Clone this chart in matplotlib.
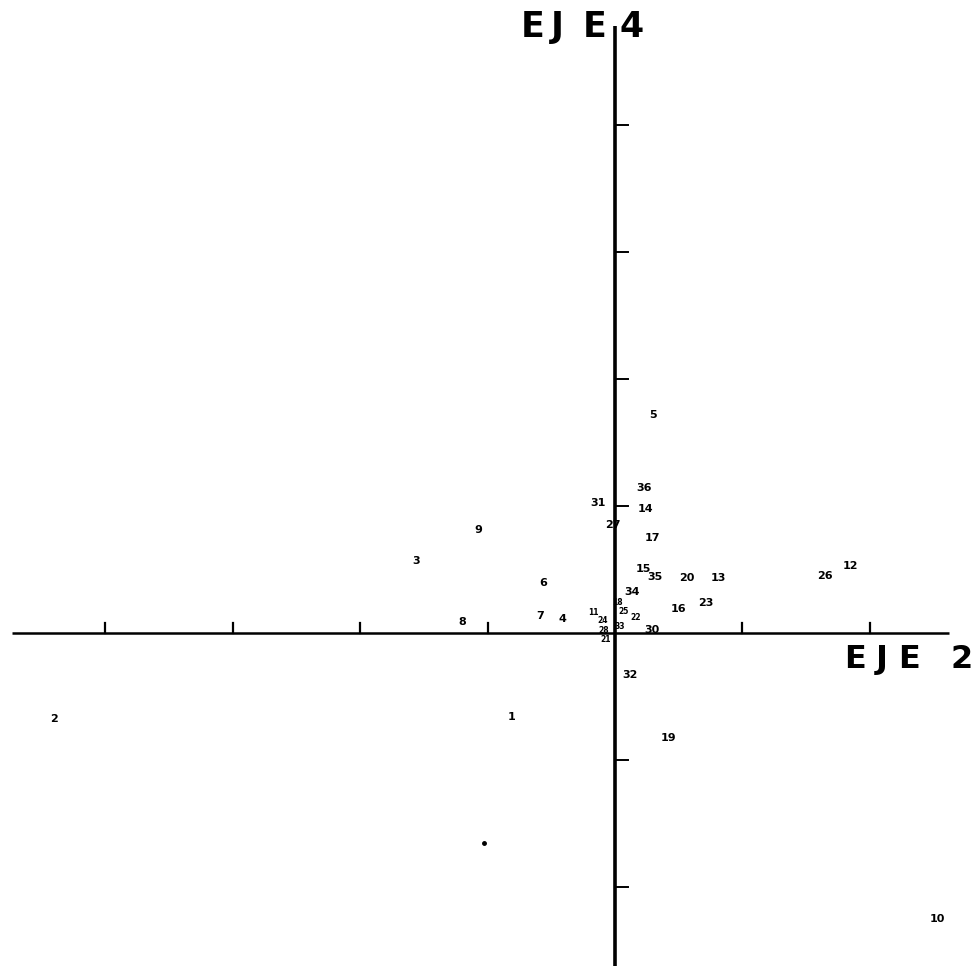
import matplotlib
matplotlib.use("Agg")
import matplotlib.pyplot as plt

# axis 2 / axis 4 coordinates of each case
labels = ["5", "36", "31", "14", "27", "17", "9", "3", "15", "35", "20", "13",
          "26", "12", "6", "34", "16", "23", "18", "25", "22", "11", "24", "33",
          "28", "21", "7", "4", "8", "30", "32", "1", "19", "2", "10"]
eje2 = [0.30, 0.23, -0.13, 0.24, -0.02, 0.29, -1.07, -1.56, 0.22, 0.31, 0.56, 0.81,
        1.65, 1.85, -0.56, 0.13, 0.50, 0.71, 0.02, 0.07, 0.16, -0.17, -0.10, 0.04,
        -0.09, -0.07, -0.59, -0.41, -1.20, 0.29, 0.12, -0.81, 0.42, -4.40, 2.53]
eje4 = [1.72, 1.14, 1.02, 0.98, 0.85, 0.75, 0.81, 0.57, 0.50, 0.44, 0.43, 0.43,
        0.45, 0.53, 0.39, 0.32, 0.19, 0.24, 0.24, 0.17, 0.12, 0.16, 0.10, 0.05,
        0.02, -0.05, 0.13, 0.11, 0.09, 0.02, -0.33, -0.66, -0.83, -0.68, -2.25]

# unlabelled point
dot_x = [-1.03]
dot_y = [-1.65]

x_ticks = [-4, -3, -2, -1, 1, 2]
y_ticks = [-2, -1, 1, 2, 3, 4]


def draw_axes(ax):
    ax.plot([-4.73, 2.62], [0, 0], color="black", lw=1.8, solid_capstyle="butt")
    ax.plot([0, 0], [-2.7, 4.78], color="black", lw=2.6, solid_capstyle="butt")
    for t in x_ticks:
        ax.plot([t, t], [0, 0.08], color="black", lw=1.6)
    for t in y_ticks:
        ax.plot([0, 0.1], [t, t], color="black", lw=1.4)


def draw_title(ax, chars, xs, y, size):
    for c, x in zip(chars, xs):
        ax.text(x, y, c, fontsize=size, fontweight="bold", ha="center", va="center",
                family="DejaVu Sans")


def main():
    fig = plt.figure(figsize=(9.8, 9.66), dpi=100)
    ax = fig.add_axes([0, 0, 1, 1])
    ax.set_xlim(-4.824, 2.863)
    ax.set_ylim(-2.622, 4.984)
    ax.axis("off")

    draw_axes(ax)

    for lab, x, y in zip(labels, eje2, eje4):
        # the crowded ones around the origin are written smaller
        crowded = abs(x) < 0.2 and abs(y) < 0.3
        ax.text(x, y, lab, fontsize=5.5 if crowded else 8, fontweight="bold",
                ha="center", va="center")
    ax.plot(dot_x, dot_y, "o", color="black", ms=2.5)

    # axis names, spaced out like stencil lettering
    draw_title(ax, ["E", "J", "E", "4"], [-0.65, -0.45, -0.16, 0.13], 4.77, 25)
    draw_title(ax, ["E", "J", "E", "2"], [1.88, 2.09, 2.31, 2.72], -0.21, 23)

    plt.savefig("out.png", dpi=100)


if __name__ == "__main__":
    main()
